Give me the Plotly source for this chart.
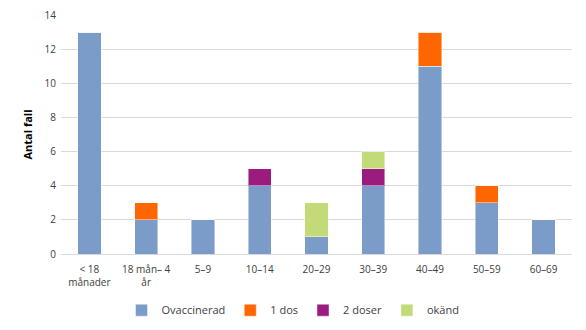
import plotly.graph_objects as go

categories = ["< 18<br>månader", "18 mån– 4<br>år", "5–9", "10–14", "20–29", "30–39", "40–49", "50–59", "60–69"]
ovaccinerad = [13, 2, 2, 4, 1, 4, 11, 3, 2]
en_dos = [0, 1, 0, 0, 0, 0, 2, 1, 0]
tva_doser = [0, 0, 0, 1, 0, 1, 0, 0, 0]
okand = [0, 0, 0, 0, 2, 1, 0, 0, 0]
y_ticks = [0, 2, 4, 6, 8, 10, 12, 14]

series = [
    ("Ovaccinerad", ovaccinerad, "#7B9BC9"),
    ("1 dos", en_dos, "#FF6600"),
    ("2 doser", tva_doser, "#9B1B7F"),
    ("okänd", okand, "#C2DA78"),
]

fig = go.Figure()
for name, vals, color in series:
    fig.add_trace(go.Bar(
        x=categories, y=vals, name=name,
        marker=dict(color=color, line=dict(color="rgba(255,255,255,0.45)", width=1)),
    ))

font = "Open Sans, DejaVu Sans, sans-serif"
fig.update_layout(
    barmode="stack",
    bargap=0.59,
    width=586, height=330,
    margin=dict(l=61, r=14, t=15, b=76, autoexpand=False),
    paper_bgcolor="white", plot_bgcolor="white",
    font=dict(family=font, size=10, color="#404040"),
    showlegend=True,
    legend=dict(orientation="h", x=0.5, xanchor="center", xref="container",
                y=0.06, yanchor="middle", yref="container",
                font=dict(size=11, color="#404040"), traceorder="normal",
                itemwidth=30, tracegroupgap=0),
    xaxis=dict(showline=True, linecolor="#D9D9D9", linewidth=1, ticks="",
               tickfont=dict(size=10), automargin=False, ticklabelstandoff=6),
    yaxis=dict(range=[0, 14], tickvals=y_ticks, showgrid=True, gridcolor="#D9D9D9",
               gridwidth=1, zeroline=False, ticks="", tickfont=dict(size=10), automargin=False,
               ticklabelstandoff=4,
               title=dict(text="<b>Antal fall</b>", font=dict(size=11, color="#000000"), standoff=9)),
)

fig.write_html("out.html")
